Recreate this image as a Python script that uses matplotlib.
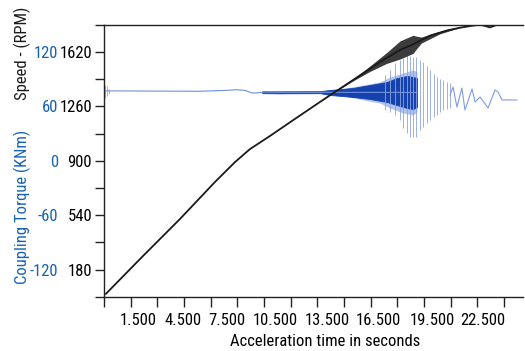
import matplotlib
matplotlib.use("Agg")
import matplotlib.pyplot as plt
from matplotlib import font_manager
import numpy as np

# pick a condensed sans face if one is available
_installed = {f.name for f in font_manager.fontManager.ttflist}
_candidates = ['Liberation Sans Narrow', 'DejaVu Sans Condensed', 'Roboto Condensed',
               'Arial Narrow', 'Roboto', 'Liberation Sans']
_family = [n for n in _candidates if n in _installed] + ['DejaVu Sans']
plt.rcParams['font.family'] = _family
_narrow = _family[0] in ('Liberation Sans Narrow', 'DejaVu Sans Condensed',
                         'Roboto Condensed', 'Arial Narrow')

# ---- speed (RPM) --------------------------------------------------------
speed_t = [0.1, 2.19, 4.27, 6.24, 7.37, 8.21, 9.34, 10.57, 12.15, 13.84,
           15.52, 16.65, 17.38, 18.34, 19.29, 20.02, 20.75, 21.15, 21.43,
           21.71, 21.93, 22.1]
speed_rpm = [18, 269, 514, 759, 891, 977, 1064, 1163, 1289, 1421,
             1553, 1633, 1670, 1728, 1762, 1780, 1794, 1800, 1792,
             1782, 1792, 1800]
# half-width of the speed oscillation band
speed_osc_t = [13.0, 14.0, 14.96, 15.9, 16.65, 17.38, 17.6, 17.85, 18.9, 20.0]
speed_osc = [0, 6, 18, 36, 60, 60, 40, 20, 8, 0]

# ---- coupling torque (KNm) -----------------------------------------------
torque_t = [0.05, 0.34, 2.59, 5.4, 6.8, 7.48, 7.93, 8.32, 8.6, 8.89, 11.02, 17.6]
torque_base = [77, 77, 76.8, 76.6, 77.5, 78.3, 77.5, 74.7, 74.8, 75.5, 75.4, 75.3]
# envelope of the dense torque oscillation
band_t = [8.9, 9.9, 12.15, 12.71, 14.0, 14.96, 15.92, 16.48, 17.04, 17.38, 17.6]
band_lo = [74.5, 74.3, 74.5, 72.5, 70.3, 68.1, 64.7, 61.4, 58.1, 57.0, 59.2]
band_hi = [76.5, 76.5, 76.7, 78.0, 80.2, 83.5, 86.8, 91.2, 93.4, 92.3, 91.2]
# fainter outer envelope of the same oscillation
halo_t = [12.5, 13.5, 14.57, 15.52, 16.09, 16.82, 17.38, 17.6]
halo_lo = [74.0, 71.4, 67.0, 63.6, 58.1, 52.6, 50.4, 53.7]
halo_hi = [77.0, 79.6, 83.5, 86.8, 92.3, 96.7, 100.1, 97.9]
# individual torque swings
spike_t = [0.05, 0.15, 0.3, 15.8, 16.09, 16.37, 16.65, 16.82, 17.04, 17.21,
           17.38, 17.55, 17.77, 17.94, 18.17, 18.34, 18.56, 18.73, 18.9,
           19.07, 19.29, 19.46]
spike_hi = [84, 82, 79, 94.5, 100.1, 107.8, 111.1, 113.2, 116.6, 115.5,
            114.4, 114.4, 111.1, 108.8, 104.4, 100.1, 95.6, 92.3, 90.0,
            89.0, 86.8, 85.7]
spike_lo = [69, 71, 74, 56.0, 53.7, 50.4, 44.9, 36.1, 30.6, 26.1,
            26.1, 26.1, 33.9, 37.3, 41.7, 45.0, 48.3, 50.4, 53.7,
            55.9, 57.0, 58.1]
# slow oscillation after the resonance
tail_t = [19.46, 19.63, 19.85, 20.13, 20.3, 20.7, 20.87, 21.15, 21.6,
          21.99, 22.16, 22.39, 23.23]
tail_tq = [72.5, 81.3, 59.2, 80.2, 55.9, 79.1, 64.7, 70.3, 58.1,
           78.0, 75.8, 67.0, 67.0]

# ---- axes labelling -------------------------------------------------------
x_labels = ['1.500', '4.500', '7.500', '10.500', '13.500', '16.500', '19.500', '22.500']
x_label_pos = [1.91, 4.42, 6.9, 9.62, 12.54, 15.41, 18.45, 21.32]
x_tick_step = 1.5
speed_ticks = list(range(0, 1801, 180))
speed_labels = [180, 540, 900, 1260, 1620]
torque_labels = [-120, -60, 0, 60, 120]

BLUE_TXT = '#1763b0'
FS = 12 if _narrow else 9.5

fig = plt.figure(figsize=(5.25, 3.51), dpi=100)
ax = fig.add_axes([104 / 525, 54.3 / 351, 419 / 525, 272 / 351])
ax2 = ax.twinx()
ax2.set_zorder(ax.get_zorder() - 1)
ax.patch.set_visible(False)

# torque
ax2.plot(torque_t, torque_base, color='#6f8fdc', lw=0.8)
ax2.fill_between(halo_t, halo_lo, halo_hi, color='#6f8fdc', alpha=0.55, lw=0)
ax2.fill_between(band_t, band_lo, band_hi, color='#1642ad', lw=0.6,
                 edgecolor='#1642ad')
ax2.vlines(spike_t, spike_lo, spike_hi, color='#8aa3e4', lw=0.6)
ax2.plot(tail_t, tail_tq, color='#7f9be2', lw=0.8)
ax2.set_ylim(-150, 150)

# speed
ax.plot(speed_t, speed_rpm, color='#1a1a1a', lw=1.3, solid_capstyle='round')
fan_t = np.array(speed_osc_t)
fan_mid = np.interp(fan_t, speed_t, speed_rpm)
ax.fill_between(fan_t, fan_mid - np.array(speed_osc), fan_mid + np.array(speed_osc),
                color='#1a1a1a', alpha=0.85, lw=0)
ax.set_ylim(0, 1800)
ax.set_xlim(0, 419 / (26.67 / x_tick_step))

# spines
ax.spines['right'].set_visible(False)
for s in ['top', 'right', 'bottom', 'left']:
    ax2.spines[s].set_visible(False)
for s in ['top', 'bottom', 'left']:
    ax.spines[s].set_linewidth(1.0)
    ax.spines[s].set_color('#222222')

# x ticks: evenly spaced marks, labels placed separately
ax.set_xticks(np.arange(0, 22.6, x_tick_step), minor=True)
ax.set_xticks(x_label_pos)
ax.set_xticklabels(x_labels, fontsize=FS)
ax.tick_params(axis='x', which='major', length=0, pad=12)
ax.tick_params(axis='x', which='minor', length=7.2, width=1.0, direction='out',
               color='#222222')

# speed ticks
ax.set_yticks(speed_ticks)
ax.set_yticklabels([str(v) if v in speed_labels else '' for v in speed_ticks],
                   fontsize=FS)
ax.tick_params(axis='y', length=6.5, width=1.0, pad=2.2, color='#222222')

# torque ticks on the left, beside the speed labels
ax2.yaxis.tick_left()
ax2.spines['left'].set_position(('outward', 31))
ax2.set_yticks(torque_labels)
ax2.set_yticklabels([str(v) for v in torque_labels], fontsize=FS, color=BLUE_TXT)
ax2.tick_params(axis='y', length=0, pad=2)
ax2.tick_params(axis='y', which='both', right=False, labelright=False)

fig.text(22 / 525, 1 - 53 / 351, 'Speed - (RPM)', rotation=90, ha='center',
         va='center', fontsize=FS, color='#1a1a1a')
fig.text(22 / 525, 1 - 207 / 351, 'Coupling Torque (KNm)', rotation=90,
         ha='center', va='center', fontsize=FS, color=BLUE_TXT)
fig.text(325 / 525, 1 - 342 / 351, 'Acceleration time in seconds', ha='center',
         va='center', fontsize=FS)

fig.savefig('out.png', dpi=100)
